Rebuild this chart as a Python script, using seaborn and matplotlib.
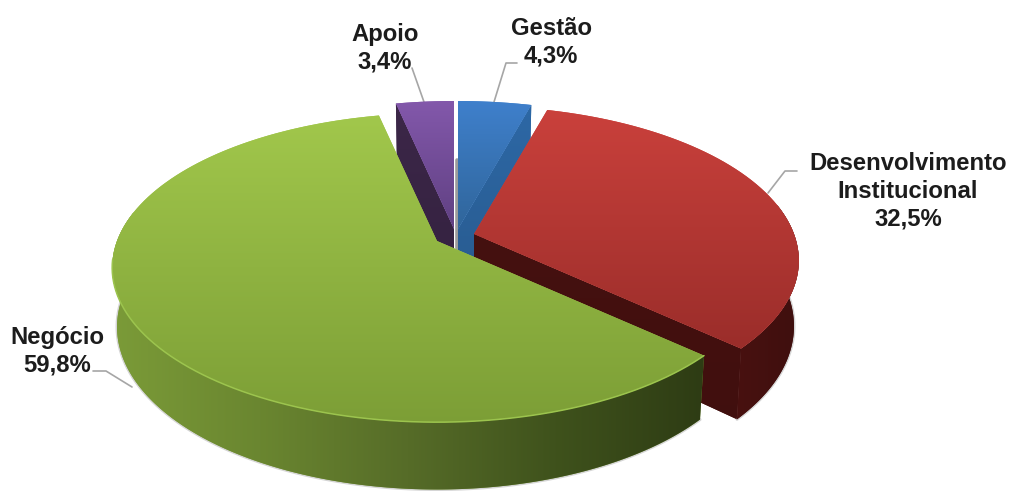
import numpy as np
import matplotlib
matplotlib.use("Agg")
import matplotlib.pyplot as plt
from matplotlib.patches import Polygon
from matplotlib.path import Path
from matplotlib.transforms import Affine2D, Transform
import seaborn as sns

sns.set_theme(style="white")
plt.rcParams["font.family"] = ["Liberation Sans", "DejaVu Sans"]

# chart values
categories = ["Gestão", "Desenvolvimento\nInstitucional", "Negócio", "Apoio"]
shares = [4.3, 32.5, 59.8, 3.4]

# look of the tilted disc, in pixels
W, H = 1009, 491
RX, RY, PERSP = 320, 150, 0.172
SHRINK = 0.985

# where the tip of every slice sits after being pulled out
apex = [(458, 229), (474, 234), (437, 241), (454, 229)]
depth = [58, 64, 58, 58]
top_cols = [("#3f80cc", "#2f6498"), ("#cb413c", "#9a2d2a"), ("#a2c84c", "#7c9e36"), ("#8358ab", "#5e3f80")]
top_span = [(100, 235), (105, 350), (110, 425), (100, 235)]
rim_cols = [None, ("#481110", "#3f0f0e"), ("#7b9b38", "#6a8630", "#566c28", "#3f521c", "#2e3c14"), None]
side_cols = [("#2d68a6", "#244e78"), ("#481110", "#3f0f0e"), None, ("#3c2748", "#2c1c38")]
side_edge = ["theta1", "theta1", None, "theta2"]
layer = [1, 3, 4, 2]


def project(x, y, tip, drop=0):
    w = 1 + PERSP * y
    px, py = RX * x / w, -RY * y / w
    if drop:
        px, py = px * SHRINK, py * SHRINK + drop / w
    return np.column_stack([tip[0] + px, tip[1] + py])


class Tilt(Transform):
    input_dims = output_dims = 2
    is_separable = False
    has_inverse = False

    def __init__(self, tip):
        super().__init__()
        self.tip = tip

    def transform_non_affine(self, values):
        values = np.asarray(values)
        return project(values[:, 0], values[:, 1], self.tip)

    def transform_path_non_affine(self, path):
        # curves have to be flattened before the bend
        poly = path.to_polygons(Affine2D().scale(800), closed_only=False)[0] / 800
        return Path(self.transform_non_affine(poly))


def shade(clip, cols, extent, horizontal, z):
    grad = np.linspace(0, 1, 256).reshape(1, -1) if horizontal else np.linspace(0, 1, 256).reshape(-1, 1)
    cmap = sns.blend_palette(cols, as_cmap=True)
    im = ax.imshow(grad, cmap=cmap, extent=extent, aspect="auto", zorder=z, interpolation="bilinear")
    im.set_clip_path(clip)


fig = plt.figure(figsize=(W / 100, H / 100), dpi=100)
ax = fig.add_axes([0, 0, 1, 1])

wedges, _ = ax.pie(shares, startangle=90, counterclock=False, radius=1,
                   wedgeprops={"linewidth": 0})
ax.set_aspect("auto")

# grey sliver seen through the gap between the two small slices
ax.plot([456.5, 456.5], [160, 250], color="#9c9c9c", lw=2.6, zorder=2)

for i, wedge in enumerate(wedges):
    tip = apex[i]
    z = layer[i] * 10

    # straight cut face
    if side_edge[i]:
        a = np.radians(getattr(wedge, side_edge[i]))
        ex, ey = np.array([0, np.cos(a)]), np.array([0, np.sin(a)])
        top = project(ex, ey, tip)
        low = project(ex, ey, tip, depth[i])
        face = Polygon(np.vstack([top, low[::-1]]), closed=True, fc=side_cols[i][0], lw=0, zorder=z)
        ax.add_patch(face)
        shade(face, side_cols[i], (0, W, H, top_span[i][0]), False, z)

    # outer round wall, front part only
    if rim_cols[i]:
        t = np.radians(np.linspace(wedge.theta1, wedge.theta2, 400))
        t = t[np.sin(t) < 0.2]
        rim_top = project(np.cos(t), np.sin(t), tip)
        rim_low = project(np.cos(t), np.sin(t), tip, depth[i])
        rim = Polygon(np.vstack([rim_top, rim_low[::-1]]), closed=True, fc=rim_cols[i][0], lw=0, zorder=z + 1)
        ax.add_patch(rim)
        xs = np.r_[rim_top[:, 0], rim_low[:, 0]]
        shade(rim, rim_cols[i], (xs.min(), xs.max(), H, 0), True, z + 1)
        # soft grey halo under the wall
        ax.plot(rim_low[:, 0], rim_low[:, 1], color="#888888", alpha=0.35, lw=2.2, zorder=z)

    wedge.set_transform(Tilt(tip) + ax.transData)
    wedge.set_facecolor(top_cols[i][0])
    wedge.set_zorder(z + 2)
    shade(wedge, top_cols[i], (0, W, top_span[i][1], top_span[i][0]), False, z + 2)

# light line on the green front edge
g = wedges[2]
t = np.radians(np.linspace(g.theta1, g.theta2, 400))
t = t[np.sin(t) < -0.12]
edge = project(np.cos(t), np.sin(t), apex[2])
ax.plot(edge[:, 0], edge[:, 1], color="#9cc44e", lw=1.1, zorder=43)

# leader lines
leaders = [
    ([517, 506, 494], [63, 63, 102]),
    ([797, 785, 768], [171, 171, 193]),
    ([93, 106, 132], [371, 371, 387]),
    ([412, 424], [68, 102]),
]
for lx, ly in leaders:
    ax.plot(lx, ly, color="#a6a6a6", lw=1.2, zorder=5)

label_pos = [(551, 42), (908, 191), (57, 351), (385, 48)]
for cat, val, (tx, ty) in zip(categories, shares, label_pos):
    txt = f"{cat}\n{val:.1f}%".replace(".", ",")
    ax.text(tx, ty, txt, ha="center", va="center", fontsize=17.2, fontweight="bold",
            color="#1c1c1c", linespacing=1.26, zorder=60)

ax.set_xlim(0, W)
ax.set_ylim(H, 0)
ax.axis("off")
fig.savefig("out.png", dpi=100, facecolor="white")
